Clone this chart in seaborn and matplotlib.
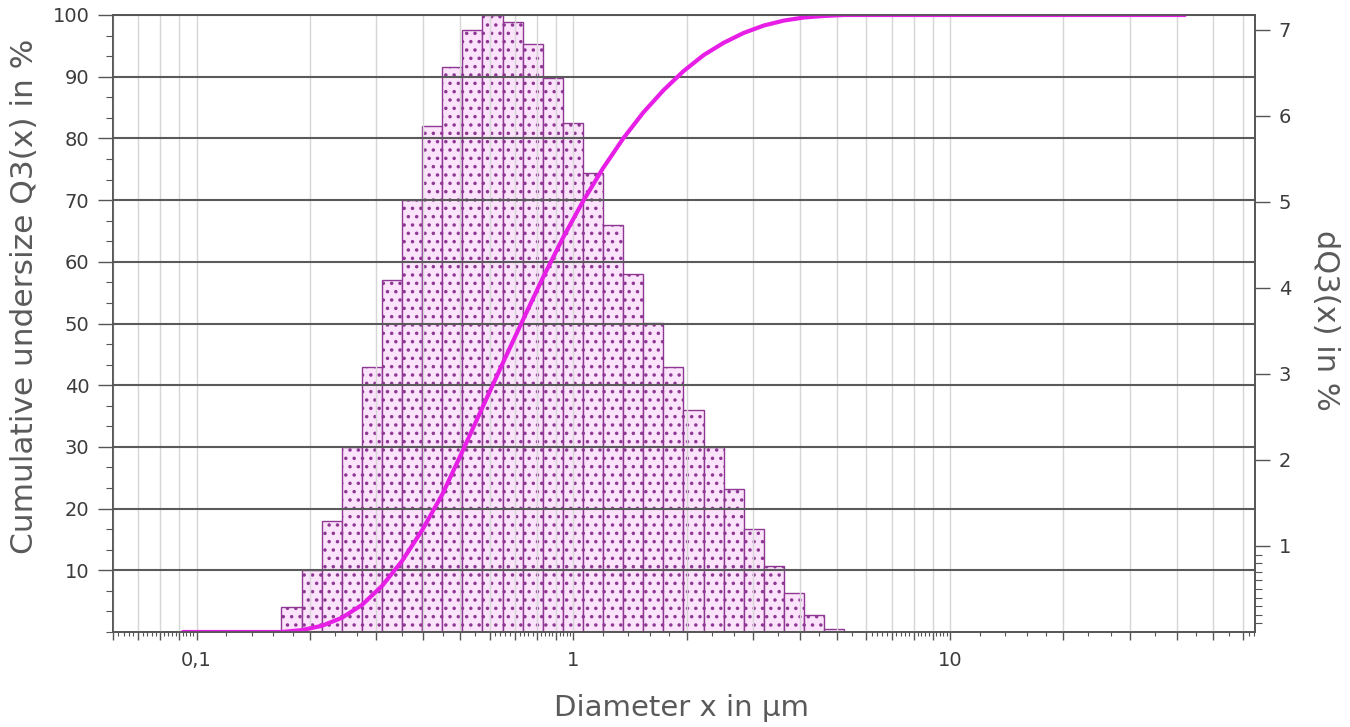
import numpy as np
import pandas as pd
import seaborn as sns
import matplotlib.pyplot as plt
from matplotlib.ticker import FixedLocator, FixedFormatter, MultipleLocator, NullFormatter

# class edges of the size distribution (µm)
bin_edges = [0.168, 0.190, 0.215, 0.243, 0.275, 0.311, 0.351, 0.397, 0.449, 0.508,
             0.574, 0.649, 0.734, 0.830, 0.939, 1.061, 1.200, 1.357, 1.534, 1.735,
             1.961, 2.218, 2.508, 2.835, 3.206, 3.625, 4.099, 4.634, 5.240]
# density per class dQ3(x) in %
dq3 = [0.29, 0.72, 1.29, 2.15, 3.08, 4.09, 5.02, 5.88, 6.57, 7.00,
       7.17, 7.09, 6.83, 6.44, 5.92, 5.33, 4.73, 4.16, 3.59, 3.08,
       2.58, 2.15, 1.66, 1.20, 0.77, 0.45, 0.20, 0.04]

# cumulative undersize curve Q3(x)
curve_x = [0.092, 0.168, 0.190, 0.215, 0.243, 0.275, 0.311, 0.351, 0.397, 0.449,
           0.508, 0.574, 0.649, 0.734, 0.830, 0.939, 1.061, 1.200, 1.357, 1.534,
           1.735, 1.961, 2.218, 2.508, 2.835, 3.206, 3.625, 4.099, 4.634, 5.240, 42.0]
curve_q3 = [0.0, 0.0, 0.3, 1.0, 2.3, 4.4, 7.5, 11.5, 16.5, 22.3,
            29.3, 36.4, 43.5, 50.5, 57.4, 63.9, 69.8, 75.2, 80.0, 84.2,
            87.8, 90.9, 93.5, 95.5, 97.1, 98.3, 99.1, 99.6, 99.85, 100.0, 100.0]

x_labels = ["0,1", "1", "10"]
x_label_pos = [0.1, 1, 10]

sns.set_theme(style="white")
plt.rcParams['font.family'] = ['DejaVu Sans']
plt.rcParams['hatch.color'] = '#86308c'
plt.rcParams['hatch.linewidth'] = 1.3

txt = '#3c3c3c'
lab = '#5a5a5a'
spine = '#555555'

fig = plt.figure(figsize=(13.5, 7.27), dpi=100)
ax1 = fig.add_axes([113 / 1350, 1 - 632 / 727, (1255 - 113) / 1350, (632 - 15) / 727])
ax1.set_xscale('log')
ax2 = ax1.twinx()
ax1.set_zorder(ax2.get_zorder() + 1)
ax1.patch.set_visible(False)

# histogram bars on the right axis
edges = np.array(bin_edges)
ax2.bar(edges[:-1], dq3, width=np.diff(edges), align='edge',
        facecolor='#fbe3fb', edgecolor='#8e3894', hatch='..', linewidth=1.0)

# cumulative curve on the left axis
curve_df = pd.DataFrame({'x': curve_x, 'q3': curve_q3})
sns.lineplot(data=curve_df, x='x', y='q3', ax=ax1, color='#e61ee6', linewidth=3, sort=False)

ax1.set_ylim(0, 100)
ax2.set_ylim(0, 7.17)

# x ticks: grid positions as major, finer ones as minor
grid_pos = [m * 10.0 ** d for d in (-2, -1, 0, 1) for m in range(1, 10)]
fine_subs = [1.2, 1.4, 1.6, 1.8, 2.33, 2.67, 3.5, 4.5, 5.5,
             6.2, 6.4, 6.6, 6.8, 7.2, 7.4, 7.6, 7.8, 8.2, 8.4, 8.6, 8.8, 9.2, 9.4, 9.6, 9.8]
fine_pos = [m * 10.0 ** d for d in (-2, -1, 0, 1) for m in fine_subs]
ax1.xaxis.set_major_locator(FixedLocator(grid_pos))
ax1.xaxis.set_major_formatter(FixedFormatter(
    [x_labels[x_label_pos.index(p)] if p in x_label_pos else '' for p in grid_pos]))
ax1.xaxis.set_minor_locator(FixedLocator(fine_pos))
ax1.xaxis.set_minor_formatter(NullFormatter())
ax1.set_xlim(0.06, 64.5)

ax1.set_yticks(range(10, 101, 10))
ax1.yaxis.set_minor_locator(MultipleLocator(10 / 3))
ax2.set_yticks(range(1, 8))
ax2.yaxis.set_minor_locator(FixedLocator([i / 10 for i in range(1, 10)]))

ax1.grid(axis='x', which='major', color='#d6d6d6', linewidth=1.0)
ax1.grid(axis='y', which='major', color='#5a5a5a', linewidth=1.5)
ax2.grid(False)

ax1.tick_params(axis='x', which='major', direction='out', length=6, width=1,
                color=spine, labelsize=14, labelcolor=txt, pad=8, bottom=True)
ax1.tick_params(axis='x', which='minor', direction='out', length=3, width=0.8,
                color=spine, bottom=True)
ax1.tick_params(axis='y', which='major', direction='out', length=11, width=1,
                color=spine, labelsize=14, labelcolor=txt, pad=6, left=True)
ax1.tick_params(axis='y', which='minor', direction='out', length=5, width=0.8,
                color=spine, left=True)
ax2.tick_params(axis='y', which='major', direction='out', length=11, width=1,
                color=spine, labelsize=14, labelcolor=txt, pad=6, right=True)
ax2.tick_params(axis='y', which='minor', direction='out', length=5, width=0.8,
                color=spine, right=True)

for a in (ax1, ax2):
    for s in a.spines.values():
        s.set_visible(True)
        s.set_color(spine)
        s.set_linewidth(1.2)

ax1.set_xlabel('Diameter x in µm', fontsize=21, color=lab, va='center')
ax1.xaxis.set_label_coords(0.498, -0.1235)
ax1.set_ylabel('Cumulative undersize Q3(x) in %', fontsize=22.5, color=lab,
               va='center', ha='center')
ax1.yaxis.set_label_coords(-0.0776, 0.5446)
ax2.set_ylabel('dQ3(x) in %', fontsize=22, color=lab, rotation=270,
               va='center', ha='center')
ax2.yaxis.set_label_coords(1.0613, 0.5057)

fig.savefig('out.png', dpi=100)
